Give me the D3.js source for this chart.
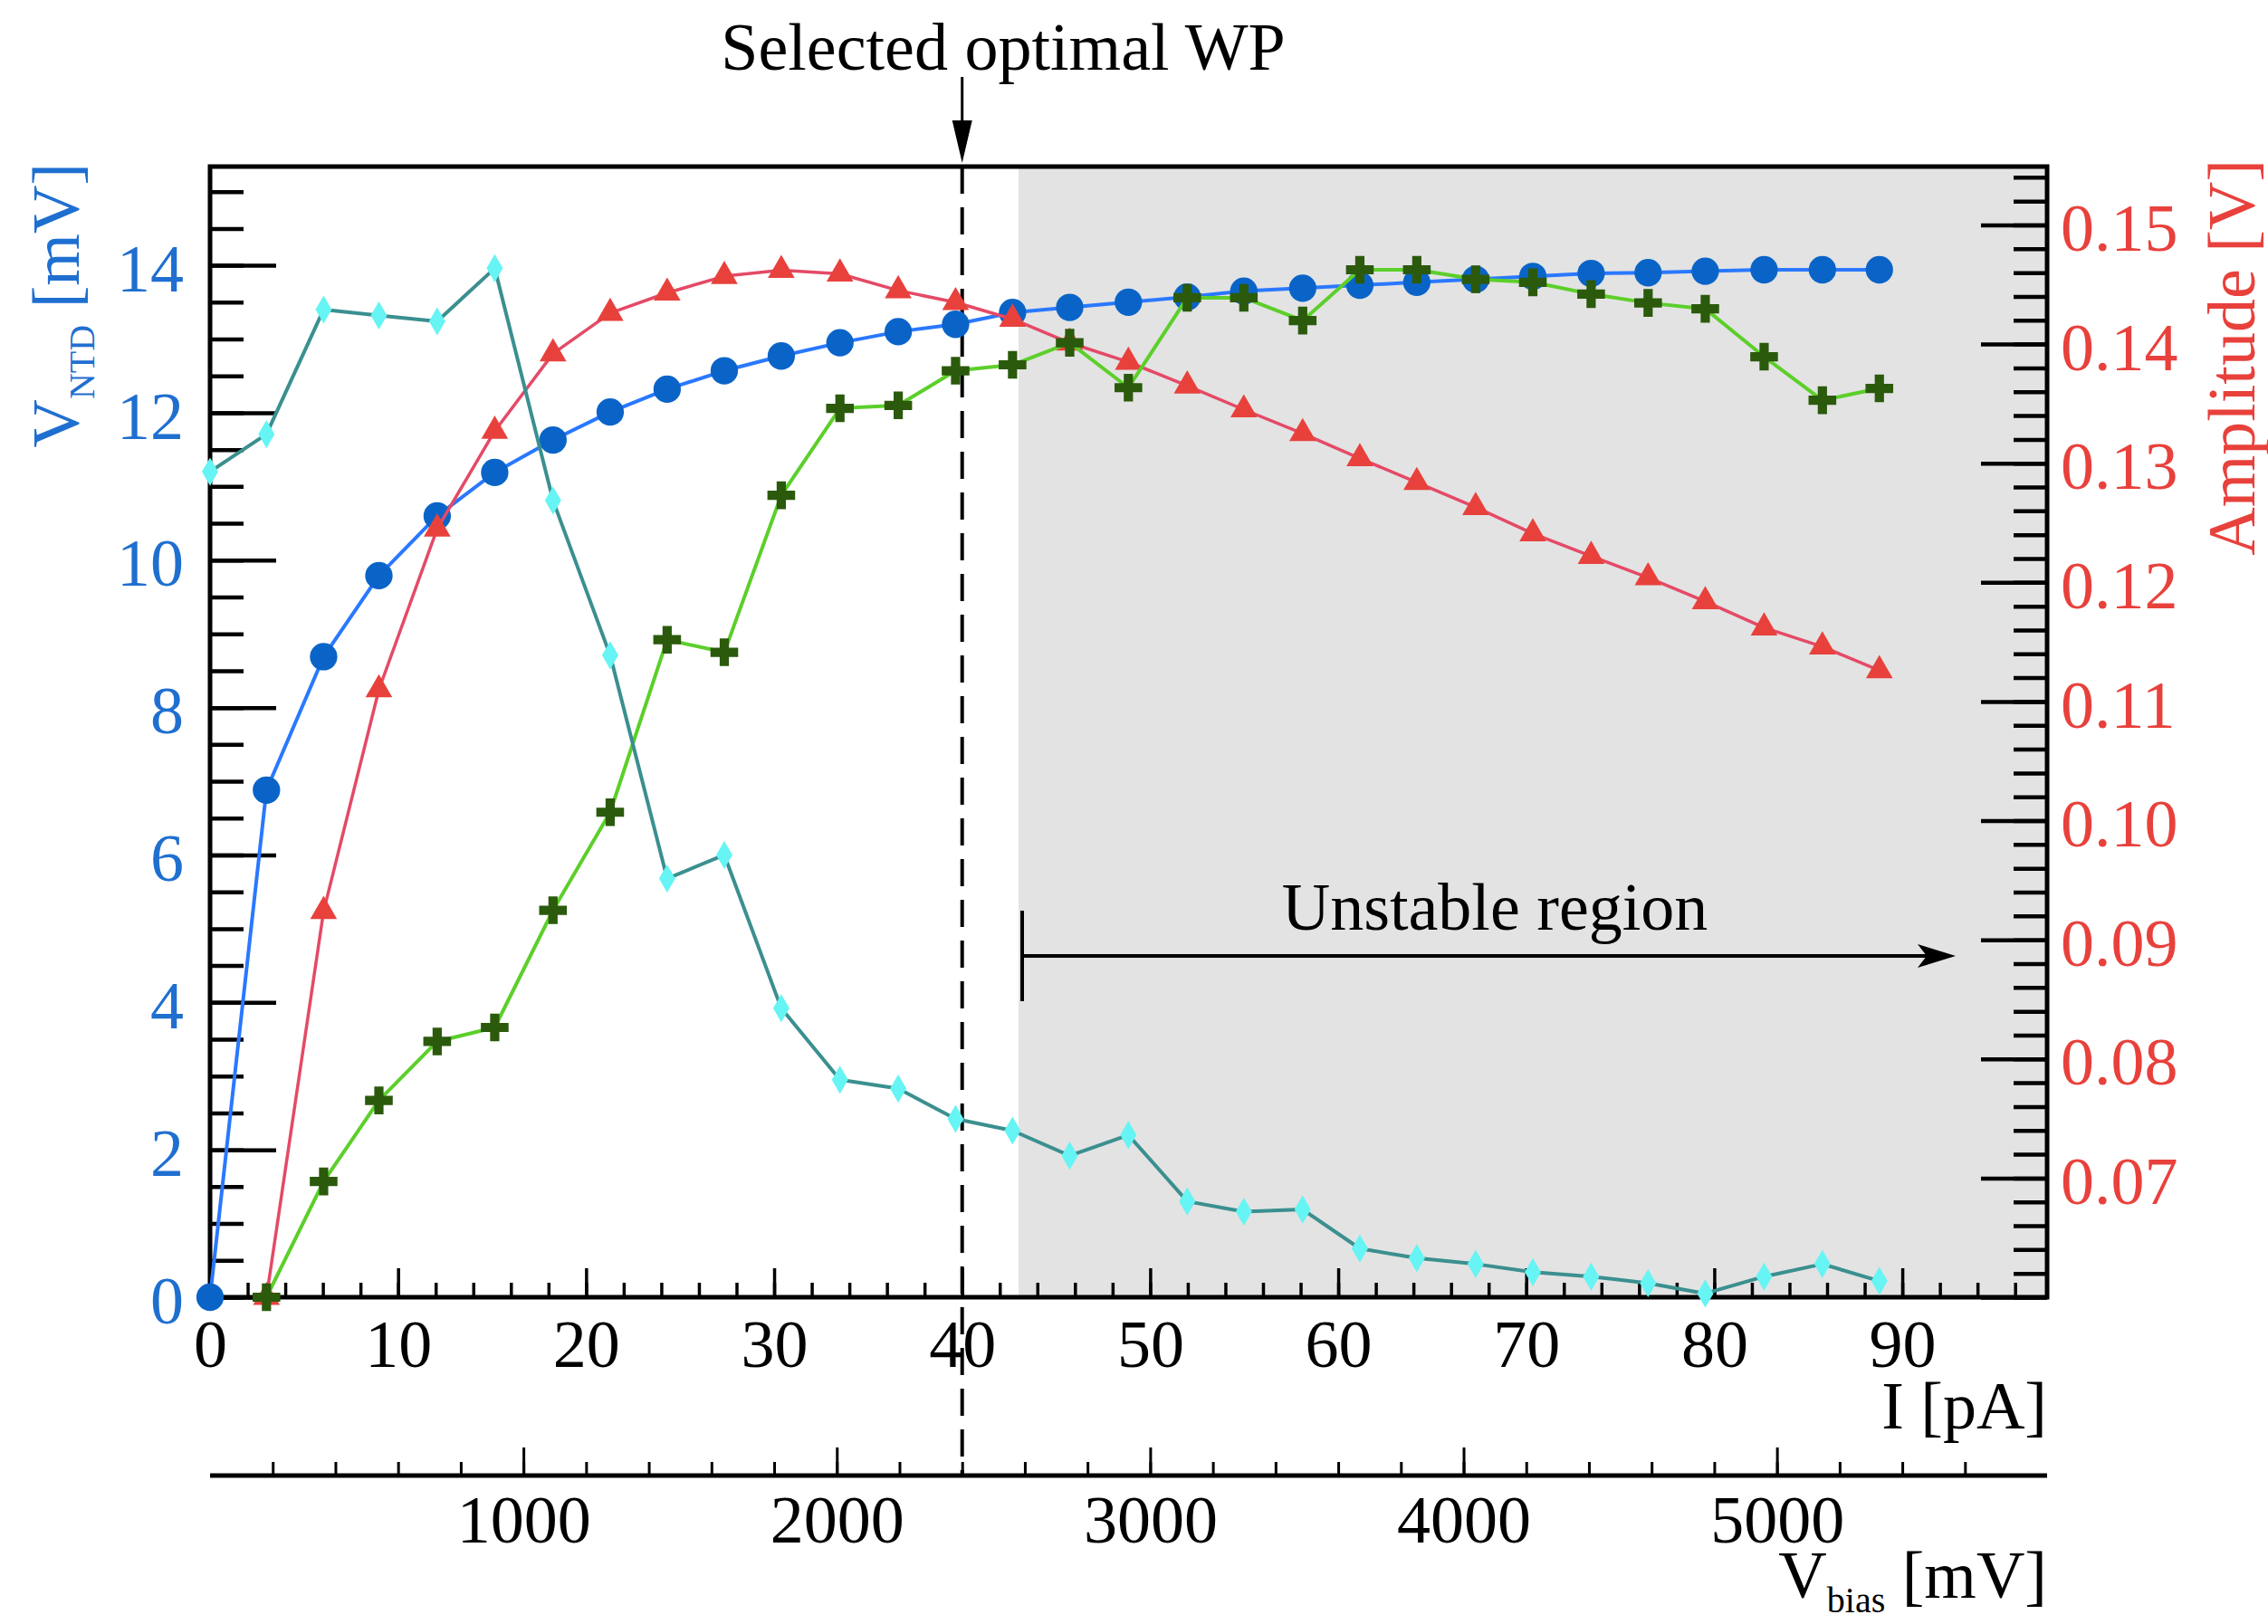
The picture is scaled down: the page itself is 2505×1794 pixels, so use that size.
<!DOCTYPE html>
<html>
<head>
<meta charset="utf-8">
<script src="https://cdn.jsdelivr.net/npm/d3@7"></script>
<style>
  body { margin: 0; background: #fff; }
  svg { display: block; }
</style>
</head>
<body>
<svg id="chart" width="2505" height="1794"></svg>
<script>
// readings of the working point scan

// bias current of each point [pA]
const current = [0, 3.0, 6.04, 8.98, 12.08, 15.14, 18.24, 21.28, 24.31, 27.35, 30.38, 33.5, 36.6, 39.65, 42.68,
  45.72, 48.84, 51.97, 54.98, 58.11, 61.15, 64.18, 67.31, 70.35, 73.45, 76.48, 79.52, 82.65, 85.75, 88.78];

// V_NTD [mV] (blue circles, left scale)
const vntd = [0, 6.88, 8.69, 9.79, 10.6, 11.19, 11.63, 12.01, 12.32, 12.57, 12.77, 12.95, 13.1, 13.2, 13.36,
  13.43, 13.5, 13.57, 13.65, 13.69, 13.73, 13.77, 13.81, 13.85, 13.89, 13.9, 13.92, 13.94, 13.94, 13.94];

// pulse amplitude [V] (red triangles, right scale)
const amplitude = [null, 0.06, 0.0924, 0.111, 0.1245, 0.1327, 0.1392, 0.1426, 0.1443, 0.1457, 0.1462, 0.1459, 0.1445,
  0.1435, 0.1421, 0.1401, 0.1385, 0.1365, 0.1345, 0.1325, 0.1304, 0.1284, 0.1263, 0.1241, 0.1222, 0.1204,
  0.1184, 0.1162, 0.1146, 0.1126];

// green crosses and cyan diamonds, drawn on the left scale
const greenCurve = [null, 0, 1.57, 2.67, 3.47, 3.66, 5.25, 6.58, 8.92, 8.75, 10.88, 12.06, 12.1, 12.57, 12.65,
  12.95, 12.34, 13.56, 13.56, 13.25, 13.94, 13.94, 13.81, 13.77, 13.61, 13.49, 13.41, 12.76, 12.17, 12.33];
const cyanCurve = [11.2, 11.71, 13.4, 13.32, 13.24, 13.96, 10.81, 8.71, 5.68, 6.0, 3.92, 2.95, 2.83, 2.42, 2.26,
  1.92, 2.2, 1.3, 1.16, 1.19, 0.66, 0.53, 0.45, 0.34, 0.28, 0.19, 0.05, 0.28, 0.45, 0.22];

// axes
const iTicks = [0, 10, 20, 30, 40, 50, 60, 70, 80, 90];
const vntdTicks = [0, 2, 4, 6, 8, 10, 12, 14];
const ampTicks = [0.06, 0.07, 0.08, 0.09, 0.10, 0.11, 0.12, 0.13, 0.14, 0.15];
const vbiasTicks = [1000, 2000, 3000, 4000, 5000];
const selectedI = 40; // optimal WP
const unstableFrom = 43; // start of unstable region [pA]
const mvPerPa = 60; // V_bias = 60 * I

const font = "'Liberation Serif', 'Times New Roman', serif";
const blueText = "#1f6fd0";
const redText = "#e8413c";

const margin = { left: 232, right: 2261, top: 184, bottom: 1433 };
const iMax = 97.7;

const x = d3.scaleLinear([0, iMax], [margin.left, margin.right]);
const yLeft = d3.scaleLinear([0, 15.34], [margin.bottom, margin.top]);
const yRight = d3.scaleLinear([0.06, 0.1549], [margin.bottom, margin.top]);
const xV = d3.scaleLinear([0, iMax * mvPerPa], [margin.left, margin.right]);

const svg = d3.select("#chart");
svg.append("rect").attr("width", 2505).attr("height", 1794).attr("fill", "#fff");

// unstable region shading
svg.append("rect")
  .attr("x", x(unstableFrom))
  .attr("y", margin.top)
  .attr("width", margin.right - x(unstableFrom))
  .attr("height", margin.bottom - margin.top)
  .attr("fill", "#e3e3e3");

function styleAxis(g, color, width) {
  g.select(".domain").remove();
  g.attr("font-family", font).attr("font-size", 74);
  g.selectAll(".tick line").attr("stroke", "#000").attr("stroke-width", width);
  g.selectAll(".tick text").attr("fill", color);
}

// left axis (minor + major)
svg.append("g")
  .attr("transform", `translate(${margin.left},0)`)
  .call(d3.axisLeft(yLeft).tickValues(d3.range(0, 15.3, 0.5)).tickSize(-37).tickFormat(""))
  .call(styleAxis, blueText, 4.5);
svg.append("g")
  .attr("transform", `translate(${margin.left},0)`)
  .call(d3.axisLeft(yLeft).tickValues(vntdTicks).tickSize(-73).tickPadding(29).tickFormat(d3.format("d")))
  .call(styleAxis, blueText, 4.5)
  .selectAll(".tick text").attr("dy", "0.38em");

// right axis, no label at the bottom edge
svg.append("g")
  .attr("transform", `translate(${margin.right},0)`)
  .call(d3.axisRight(yRight).tickValues(d3.range(0, 48).map((i) => 0.06 + i * 0.002)).tickSize(-37).tickFormat(""))
  .call(styleAxis, redText, 4.5);
svg.append("g")
  .attr("transform", `translate(${margin.right},0)`)
  .call(d3.axisRight(yRight).tickValues(ampTicks).tickSize(-73).tickPadding(15)
    .tickFormat((d) => (d < 0.065 ? "" : d3.format(".2f")(d))))
  .call(styleAxis, redText, 4.5)
  .selectAll(".tick text").attr("dy", "0.38em");

// bottom axis (I)
svg.append("g")
  .attr("transform", `translate(0,${margin.bottom})`)
  .call(d3.axisBottom(x).tickValues(d3.range(0, 97, 2)).tickSize(-16).tickFormat(""))
  .call(styleAxis, "#000", 3.5);
svg.append("g")
  .attr("transform", `translate(0,${margin.bottom})`)
  .call(d3.axisBottom(x).tickValues(iTicks).tickSize(-32).tickPadding(24).tickFormat(d3.format("d")))
  .call(styleAxis, "#000", 3.5);

// frame
svg.append("rect")
  .attr("x", margin.left)
  .attr("y", margin.top)
  .attr("width", margin.right - margin.left)
  .attr("height", margin.bottom - margin.top)
  .attr("fill", "none")
  .attr("stroke", "#000")
  .attr("stroke-width", 5);

// second x axis (V_bias)
const vAxisY = 1630;
svg.append("g")
  .attr("transform", `translate(0,${vAxisY})`)
  .call(d3.axisBottom(xV).tickValues(d3.range(200, 5800, 200)).tickSize(-15).tickFormat(""))
  .call(styleAxis, "#000", 3);
svg.append("g")
  .attr("transform", `translate(0,${vAxisY})`)
  .call(d3.axisBottom(xV).tickValues(vbiasTicks).tickSize(-31).tickPadding(21).tickFormat(d3.format("d")))
  .call(styleAxis, "#000", 3);
svg.append("line")
  .attr("x1", margin.left).attr("x2", margin.right)
  .attr("y1", vAxisY).attr("y2", vAxisY)
  .attr("stroke", "#000").attr("stroke-width", 5);

// selected WP dashed line
svg.append("line")
  .attr("x1", x(selectedI)).attr("x2", x(selectedI))
  .attr("y1", margin.top).attr("y2", vAxisY)
  .attr("stroke", "#000")
  .attr("stroke-width", 4)
  .attr("stroke-dasharray", "30 15");

// series
const rows = current.map((c, i) => ({
  i: c,
  vntd: vntd[i],
  amp: amplitude[i],
  green: greenCurve[i],
  cyan: cyanCurve[i],
}));

const series = [
  { key: "vntd", y: yLeft, line: "#2a78ff", fill: "#0a64c8", width: 4, symbol: d3.symbolCircle, size: 720 },
  { key: "amp", y: yRight, line: "#e44a66", fill: "#e8413c", width: 3.5, symbol: d3.symbolTriangle, size: 380 },
  { key: "green", y: yLeft, line: "#5ccf2a", fill: "#2b5a0c", width: 4, symbol: d3.symbolCross, size: 520 },
  { key: "cyan", y: yLeft, line: "#3b8f8f", fill: "#66f4f4", width: 4, symbol: d3.symbolDiamond, size: 280 },
];

series.forEach((s) => {
  const pts = rows.filter((d) => d[s.key] != null);
  const line = d3.line()
    .x((d) => x(d.i))
    .y((d) => s.y(d[s.key]));
  const g = svg.append("g");
  g.append("path")
    .attr("d", line(pts))
    .attr("fill", "none")
    .attr("stroke", s.line)
    .attr("stroke-width", s.width)
    .attr("stroke-linejoin", "round");
  g.selectAll("path.marker")
    .data(pts)
    .join("path")
    .attr("class", "marker")
    .attr("d", d3.symbol(s.symbol, s.size))
    .attr("transform", (d) => `translate(${x(d.i)},${s.y(d[s.key])})`)
    .attr("fill", s.fill);
});

// annotations
svg.append("text")
  .attr("x", 1108).attr("y", 77)
  .attr("text-anchor", "middle")
  .attr("font-family", font).attr("font-size", 74)
  .text("Selected optimal WP");
svg.append("line")
  .attr("x1", x(selectedI)).attr("x2", x(selectedI))
  .attr("y1", 85).attr("y2", 140)
  .attr("stroke", "#000").attr("stroke-width", 3);
svg.append("path")
  .attr("d", `M${x(selectedI) - 11},133 L${x(selectedI) + 11},133 L${x(selectedI)},180 Z`)
  .attr("fill", "#000");

const arrowY = 1056;
const arrowStart = 1129;
const arrowEnd = 2160;
svg.append("line")
  .attr("x1", arrowStart).attr("x2", arrowEnd - 20)
  .attr("y1", arrowY).attr("y2", arrowY)
  .attr("stroke", "#000").attr("stroke-width", 4);
svg.append("line")
  .attr("x1", arrowStart).attr("x2", arrowStart)
  .attr("y1", arrowY - 50).attr("y2", arrowY + 50)
  .attr("stroke", "#000").attr("stroke-width", 4);
svg.append("path")
  .attr("d", `M${arrowEnd},${arrowY} L${arrowEnd - 42},${arrowY - 13} L${arrowEnd - 32},${arrowY} L${arrowEnd - 42},${arrowY + 13} Z`)
  .attr("fill", "#000");
svg.append("text")
  .attr("x", 1651).attr("y", 1027)
  .attr("text-anchor", "middle")
  .attr("font-family", font).attr("font-size", 74)
  .text("Unstable region");

// axis titles
svg.append("text")
  .attr("x", margin.right).attr("y", 1578)
  .attr("text-anchor", "end")
  .attr("font-family", font).attr("font-size", 74)
  .text("I [pA]");

const vb = svg.append("text")
  .attr("x", margin.right).attr("y", 1765)
  .attr("text-anchor", "end")
  .attr("font-family", font).attr("font-size", 74);
vb.append("tspan").text("V");
vb.append("tspan").attr("font-size", 40).attr("dy", 16).text("bias");
vb.append("tspan").attr("dy", -16).text(" [mV]");

const yl = svg.append("text")
  .attr("transform", "translate(87,180) rotate(-90)")
  .attr("text-anchor", "end")
  .attr("font-family", font).attr("font-size", 74)
  .attr("fill", blueText);
yl.append("tspan").text("V");
yl.append("tspan").attr("font-size", 40).attr("dy", 17).text("NTD");
yl.append("tspan").attr("dy", -17).text(" [mV]");

svg.append("text")
  .attr("transform", "translate(2490,176) rotate(-90)")
  .attr("text-anchor", "end")
  .attr("font-family", font).attr("font-size", 74)
  .attr("fill", redText)
  .text("Amplitude [V]");
</script>
</body>
</html>
